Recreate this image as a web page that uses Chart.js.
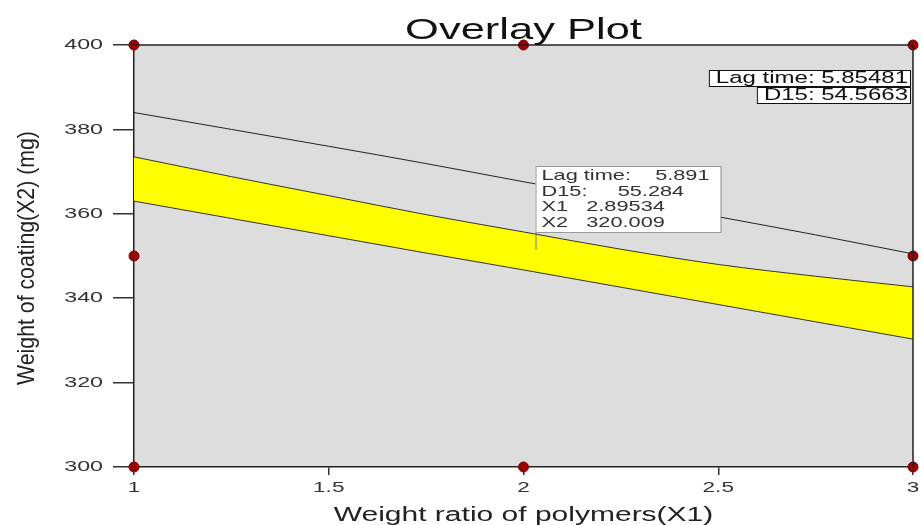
<!DOCTYPE html>
<html>
<head>
<meta charset="utf-8">
<script src="https://cdn.jsdelivr.net/npm/chart.js@4.4.1/dist/chart.umd.min.js"></script>
<style>
  body { margin: 0; background: #fff; }
  canvas { display: block; }
</style>
</head>
<body>
<canvas id="overlay" width="921" height="525"></canvas>
<script>
var x1Values = [1, 1.25, 1.5, 1.75, 2, 2.25, 2.5, 2.75, 3];
// lower and upper edge of the yellow (feasible) band
var bandLower = [363.0, 358.9, 354.8, 350.7, 346.7, 342.6, 338.5, 334.4, 330.3];
var bandUpper = [373.5, 368.8, 364.3, 359.8, 355.7, 351.6, 348.0, 345.2, 342.7];
// the lone lag time contour above the band
var lagLine = [384.0, 380.0, 376.0, 371.9, 367.6, 363.4, 359.3, 355.0, 350.5];

// design points
var designX1 = [1, 1, 1, 2, 2, 2, 3, 3, 3];
var designX2 = [300, 350, 400, 300, 350, 400, 300, 350, 400];

var xTicks = [1, 1.5, 2, 2.5, 3];
var yTicks = [300, 320, 340, 360, 380, 400];

var chartTitle = 'Overlay Plot';
var xTitle = 'Weight ratio of polymers(X1)';
var yTitle = 'Weight of coating(X2) (mg)';

// flag at the selected point
var flagPoint = { x: 2, y: 350 };
var flagLines = ['Lag time:    5.891', 'D15:     55.284', 'X1   2.89534', 'X2   320.009'];
// corner readouts
var cornerLines = ['Lag time: 5.85481', 'D15: 54.5663'];

var FONT = '"Liberation Sans", Arial, sans-serif';
var STRETCH = 1.5; // the picture is stretched sideways, so is its text

function toPoints(xs, ys) {
	var pts = [];
	for (var i = 0; i < xs.length; i++) pts.push({ x: xs[i], y: ys[i] });
	return pts;
}

// text drawn wider than tall, like the source
function wideText(ctx, text, x, y, size, align, baseline, color) {
	ctx.save();
	ctx.font = size + 'px ' + FONT;
	ctx.fillStyle = color || '#222';
	ctx.textAlign = align;
	ctx.textBaseline = baseline;
	ctx.translate(x, y);
	ctx.scale(STRETCH, 1);
	ctx.fillText(text, 0, 0);
	ctx.restore();
}

var overlayPlugin = {
	id: 'overlayPlugin',
	beforeDraw: function(chart) {
		var a = chart.chartArea, ctx = chart.ctx;
		ctx.save();
		ctx.fillStyle = '#dddddd';
		ctx.fillRect(a.left, a.top, a.right - a.left, a.bottom - a.top);
		ctx.restore();
	},
	afterDatasetsDraw: function(chart) {
		var a = chart.chartArea, ctx = chart.ctx;
		var xs = chart.scales.x, ys = chart.scales.y;

		// top and right frame
		ctx.save();
		ctx.strokeStyle = '#222';
		ctx.lineWidth = 1.5;
		ctx.beginPath();
		ctx.moveTo(a.left, a.top);
		ctx.lineTo(a.right, a.top);
		ctx.lineTo(a.right, a.bottom);
		ctx.stroke();
		ctx.restore();

		// title and axis titles
		wideText(ctx, chartTitle, (a.left + a.right) / 2, 39, 29, 'center', 'alphabetic', '#111');
		wideText(ctx, xTitle, (a.left + a.right) / 2, 521, 20, 'center', 'alphabetic', '#222');

		ctx.save();
		ctx.font = '16px ' + FONT;
		ctx.fillStyle = '#222';
		ctx.textAlign = 'center';
		ctx.textBaseline = 'middle';
		ctx.translate(27, (a.top + a.bottom) / 2 + 2);
		ctx.rotate(-Math.PI / 2);
		ctx.scale(1.33, STRETCH);
		ctx.fillText(yTitle, 0, 0);
		ctx.restore();

		// tick labels through the scales
		xTicks.forEach(function(v) {
			wideText(ctx, String(v), xs.getPixelForValue(v), 488, 15, 'center', 'middle', '#333');
		});
		yTicks.forEach(function(v) {
			wideText(ctx, String(v), 103, ys.getPixelForValue(v), 15.5, 'right', 'middle', '#333');
		});

		// corner readouts, right aligned
		ctx.save();
		ctx.font = '16px ' + FONT;
		for (var i = 0; i < cornerLines.length; i++) {
			var w = ctx.measureText(cornerLines[i]).width * STRETCH;
			var right = a.right - 3;
			var top = 70 + i * 17;
			ctx.fillStyle = '#fff';
			ctx.fillRect(right - w - 9, top, w + 9, 16);
			ctx.strokeStyle = '#111';
			ctx.lineWidth = 1;
			ctx.strokeRect(right - w - 9 + 0.5, top + 0.5, w + 9, 16);
			wideText(ctx, cornerLines[i], right - 2, top + 8.5, 16, 'right', 'middle', '#111');
		}
		ctx.restore();

		// flag box at the selected point
		var px = xs.getPixelForValue(flagPoint.x), py = ys.getPixelForValue(flagPoint.y);
		var bx = px + 12, by = py - 90, bw = 185, bh = 66;
		ctx.save();
		ctx.strokeStyle = '#777';
		ctx.lineWidth = 1;
		ctx.beginPath();
		ctx.moveTo(bx + 0.5, by + bh);
		ctx.lineTo(bx + 0.5, py - 6);
		ctx.stroke();
		ctx.fillStyle = '#fff';
		ctx.fillRect(bx, by, bw, bh);
		ctx.strokeStyle = '#999';
		ctx.strokeRect(bx + 0.5, by + 0.5, bw, bh);
		ctx.restore();
		for (var j = 0; j < flagLines.length; j++) {
			wideText(ctx, flagLines[j], bx + 6, by + 10 + j * 15.5, 14.5, 'left', 'middle', '#333');
		}
	}
};

var ctx = document.getElementById('overlay').getContext('2d');
var chart = new Chart(ctx, {
	type: 'line',
	data: {
		datasets: [
			{
				label: 'band lower',
				data: toPoints(x1Values, bandLower),
				borderColor: '#333',
				borderWidth: 1,
				pointRadius: 0,
				cubicInterpolationMode: 'monotone',
				fill: false
			},
			{
				label: 'band upper',
				data: toPoints(x1Values, bandUpper),
				borderColor: '#333',
				borderWidth: 1,
				pointRadius: 0,
				cubicInterpolationMode: 'monotone',
				backgroundColor: '#ffff00',
				fill: '-1'
			},
			{
				label: 'lag time',
				data: toPoints(x1Values, lagLine),
				borderColor: '#222',
				borderWidth: 1,
				pointRadius: 0,
				cubicInterpolationMode: 'monotone',
				fill: false
			},
			{
				type: 'scatter',
				label: 'design points',
				data: toPoints(designX1, designX2),
				pointRadius: 5,
				pointBackgroundColor: '#990000',
				pointBorderColor: '#7a0000',
				pointBorderWidth: 1,
				showLine: false,
				clip: false
			}
		]
	},
	options: {
		responsive: false,
		animation: false,
		layout: { padding: { top: 45, right: 8, left: 0, bottom: 0 } },
		plugins: {
			legend: { display: false },
			title: { display: false },
			tooltip: { enabled: false }
		},
		scales: {
			x: {
				type: 'linear',
				min: 1,
				max: 3,
				ticks: { display: false, stepSize: 0.5 },
				grid: { drawOnChartArea: false, drawTicks: true, tickLength: 8, color: '#333', lineWidth: 1.5 },
				border: { color: '#222', width: 1.5 },
				afterFit: function(scale) { scale.height = 58; }
			},
			y: {
				min: 300,
				max: 400,
				ticks: { display: false, stepSize: 20 },
				grid: { drawOnChartArea: false, drawTicks: true, tickLength: 21, color: '#333', lineWidth: 1.5 },
				border: { color: '#222', width: 1.5 },
				afterFit: function(scale) { scale.width = 134; }
			}
		}
	},
	plugins: [overlayPlugin]
});
</script>
</body>
</html>
